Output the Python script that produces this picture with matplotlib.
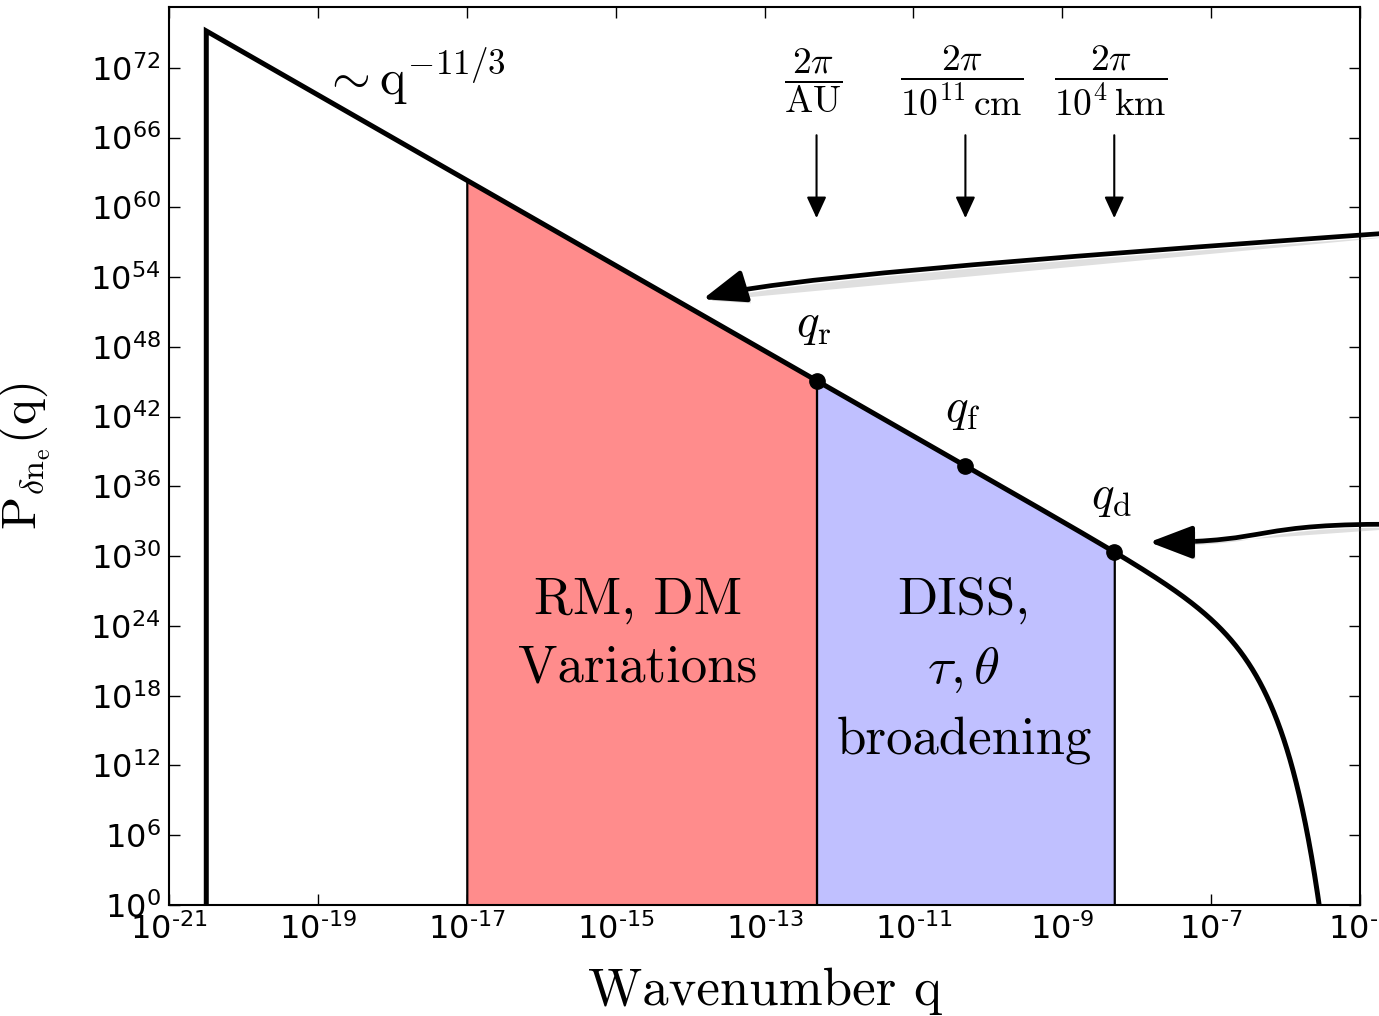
import numpy as np
import matplotlib
matplotlib.use('Agg')
import matplotlib.pyplot as plt
import matplotlib.patheffects as pe
from matplotlib.patches import FancyArrowPatch
from matplotlib.path import Path
from matplotlib.transforms import IdentityTransform
from matplotlib.ticker import FixedLocator, FuncFormatter, NullLocator

plt.rcParams['font.family'] = 'DejaVu Sans'
plt.rcParams['mathtext.fontset'] = 'cm'

# spectrum parameters
q_outer = 10**-20.5          # outer-scale cutoff
q_inner = 3.4e-8             # inner-scale cutoff
slope = -11.0 / 3.0
stretch = 0.87

# characteristic wavenumbers marked on the spectrum
marked_q = [5e-13, 5e-11, 5e-9]
marked_names = [r'$q_{\mathrm{r}}$', r'$q_{\mathrm{f}}$', r'$q_{\mathrm{d}}$']
scale_labels = [r'$\dfrac{2\pi}{\mathrm{AU}}$',
                r'$\dfrac{2\pi}{10^{11}\,\mathrm{cm}}$',
                r'$\dfrac{2\pi}{10^{4}\,\mathrm{km}}$']

# shaded ranges
bands = [(1e-17, 5e-13), (5e-13, 5e-9)]
band_colors = ['#ff8c8c', '#c0c0ff']
band_texts = ['RM, DM\nVariations', 'DISS,\n' + r'$\tau,\theta$' + '\nbroadening']
band_text_pos = [(10**-14.7, 10**23.3), (10**-10.32, 10**20.2)]

xticks = 10.0 ** np.arange(-21, -4, 2)
yticks = 10.0 ** np.arange(0, 73, 6)


def spectrum(q):
    q = np.asarray(q, dtype=float)
    return q**slope * np.exp(-(q / q_inner)**stretch)


def exp_label(v, pos):
    e = int(round(np.log10(v)))
    return r'$\mathdefault{10^{%s}}$' % str(e).replace('-', '\u2010')


fig = plt.figure(figsize=(13.79, 10.16), dpi=100)
ax = fig.add_axes([0.1226, 0.1093, 0.8636, 0.8835])
ax.set_xscale('log')
ax.set_yscale('log')
ax.set_xlim(1e-21, 1e-5)
ax.set_ylim(1, 10**77.2)

# main curve, with the sharp drop at the outer scale
q = np.logspace(np.log10(q_outer), -5, 3000)
qq = np.concatenate([[q_outer], q])
pp = np.concatenate([[1e-3], spectrum(q)])
ax.plot(qq, pp, color='k', lw=3.6, solid_joinstyle='miter', zorder=4)

for (lo, hi), c in zip(bands, band_colors):
    qb = np.logspace(np.log10(lo), np.log10(hi), 300)
    ax.fill_between(qb, spectrum(qb), 1e-3, facecolor=c, edgecolor='k',
                    lw=1.6, zorder=2)

for txt, (x, y) in zip(band_texts, band_text_pos):
    ax.text(x, y, txt, ha='center', va='center', fontsize=38,
            family='cmr10', linespacing=1.55, zorder=6)

mq = np.array(marked_q)
ax.plot(mq, spectrum(mq), 'o', color='k', ms=11, zorder=5)
for x, name in zip(marked_q, marked_names):
    ax.text(x * 0.91, spectrum(x) * 10**4.8, name, ha='center', va='center',
            fontsize=34, zorder=6)

# length scales with downward arrows
for x, lab in zip(marked_q, scale_labels):
    ax.annotate('', xy=(x, 10**59.07), xytext=(x, 10**66.2),
                arrowprops=dict(arrowstyle='-|>,head_length=0.65,head_width=0.3',
                                mutation_scale=20, lw=1.5, color='k',
                                shrinkA=0, shrinkB=0))
    ax.text(x * 0.9, 10**70.9, lab, ha='center', va='center', fontsize=27)

ax.text(10**-17.7, 10**71.2, r'$\sim\mathrm{q}^{-11/3}$', ha='center',
        va='center', fontsize=36)

# axes styling
ax.xaxis.set_major_locator(FixedLocator(xticks))
ax.yaxis.set_major_locator(FixedLocator(yticks))
ax.xaxis.set_minor_locator(NullLocator())
ax.yaxis.set_minor_locator(NullLocator())
ax.xaxis.set_major_formatter(FuncFormatter(exp_label))
ax.yaxis.set_major_formatter(FuncFormatter(exp_label))
ax.tick_params(which='both', direction='in', top=True, right=True,
               length=8, width=1, labelsize=23, pad=6)
for s in ax.spines.values():
    s.set_linewidth(1.5)

ax.set_xlabel('Wavenumber q', fontsize=38, family='cmr10')
ax.xaxis.set_label_coords(0.5, -0.07)
ax.set_ylabel(r'$\mathrm{P}_{\delta\mathrm{n_e}}(\mathrm{q})$', fontsize=35)
ax.yaxis.set_label_coords(-0.098, 0.5)

# pointer arrows coming in from the right
fig.canvas.draw()
tA = ax.transAxes.transform
tD = ax.transData.transform
pointers = [
    [tA((1.04, 0.750)), tA((0.70, 0.718)), tA((0.50, 0.696)), tD((10**-13.83, 10**52.1))],
    [tA((1.04, 0.424)), tA((0.905, 0.426)), tA((0.93, 0.404)), tD((10**-7.83, 10**31.2))],
]
for verts in pointers:
    path = Path(verts, [Path.MOVETO, Path.CURVE4, Path.CURVE4, Path.CURVE4])
    arr = FancyArrowPatch(path=path, arrowstyle='-|>,head_length=1.1,head_width=0.42',
                          mutation_scale=24, lw=3.4, color='k',
                          transform=IdentityTransform(), clip_on=False)
    arr.set_path_effects([pe.withSimplePatchShadow(offset=(2, -2.5),
                                                   shadow_rgbFace='0.5', alpha=0.25)])
    fig.add_artist(arr)

fig.savefig('out.png', dpi=100)
